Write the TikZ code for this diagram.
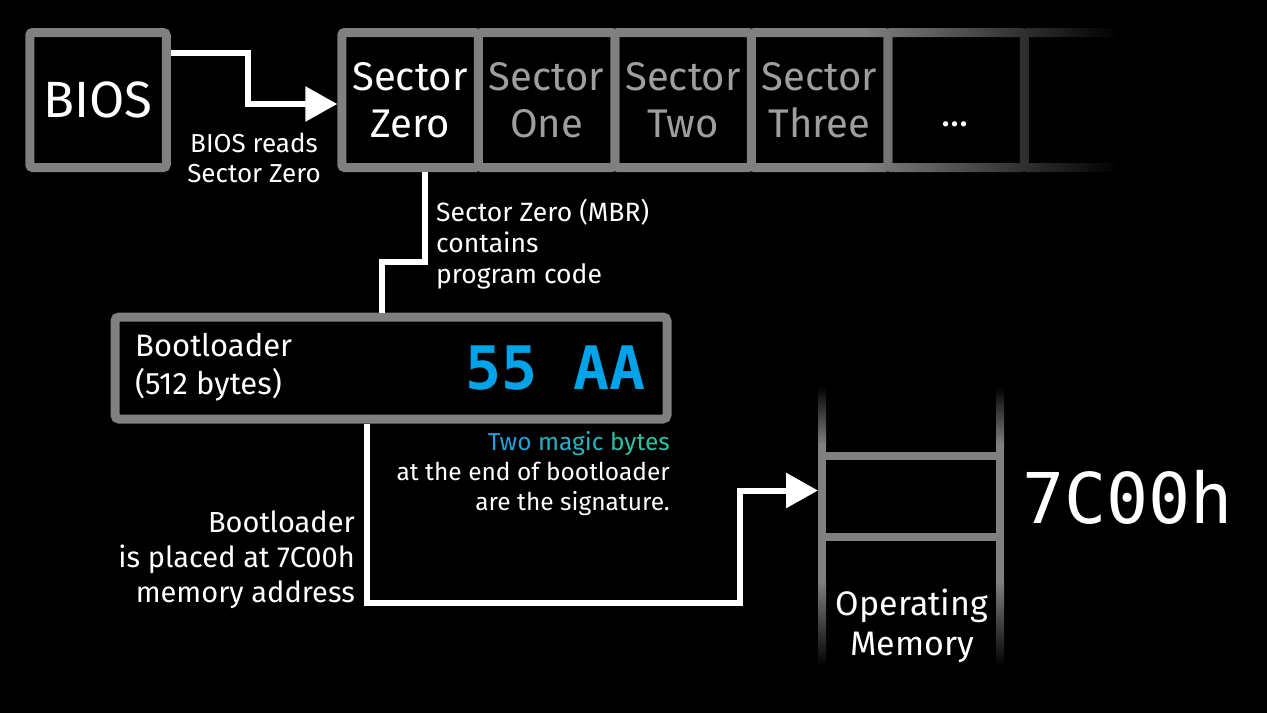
\documentclass[tikz,border=0pt]{standalone}
\usepackage{fontspec}
\setmainfont{Fira Sans}
\newfontfamily\codefont{DejaVu Sans Mono}
\usetikzlibrary{arrows.meta,fadings,calc}
\definecolor{boxgray}{RGB}{128,128,128}
\definecolor{dimtext}{RGB}{158,158,158}
\definecolor{hexblue}{RGB}{0,162,232}
\definecolor{magicA}{RGB}{38,158,218}
\definecolor{magicB}{RGB}{40,176,195}
\definecolor{magicC}{RGB}{46,192,165}
\tikzfading[name=fadeout right, left color=transparent!100, right color=transparent!0]
\tikzset{
  sectorcell/.style={draw=boxgray, line width=9pt, fill=black, rounded corners=3pt,
    minimum width=136.5pt, minimum height=135pt, inner sep=0pt, align=center,
    font=\fontsize{40}{47}\selectfont, text=dimtext},
  conn/.style={draw=white, line width=6pt},
  arrowtip/.style={-{Triangle[length=32pt,width=34pt]}},
  note/.style={text=white, font=\fontsize{24.5}{30}\selectfont, inner sep=0pt},
  memline/.style={draw=boxgray, line width=8pt},
}
\begin{document}
\begin{tikzpicture}[x=1pt,y=-1pt]
\fill[black] (0,0) rectangle (1267,713);
\useasboundingbox (0,0) rectangle (1267,713);

% BIOS
\node[sectorcell, text=white, font=\fontsize{51}{60}\selectfont] (BIOS) at (98,100) {BIOS};

% sectors
\node[sectorcell] (More) at (1092.5,100) {};
\node[sectorcell] (Dots) at (956,100) {};
\node[sectorcell] (Three) at (819.5,100) {Sector\\Three};
\node[sectorcell] (Two) at (683,100) {Sector\\Two};
\node[sectorcell] (One) at (546.5,100) {Sector\\One};
\node[sectorcell, text=white] (Zero) at (410,100) {Sector\\Zero};
\fill[black, path fading=fadeout right] (866,20) rectangle (1118,182);
\fill[black] (1117,20) rectangle (1200,182);
\node[text=white, font=\fontsize{38}{47}\selectfont, inner sep=0pt] (dotstext) at (955,124) {...};

% BIOS -> Sector Zero
\draw[conn, arrowtip] ([yshift=47pt]BIOS.east) -- ++(77,0) |- ([yshift=-4pt]Zero.west);
\node[note, align=center, font=\fontsize{26}{30}\selectfont] (readsnote) at (254,158) {BIOS reads\\Sector Zero};

% Bootloader box
\node[draw=boxgray, line width=9pt, fill=black, rounded corners=4pt,
  minimum width=552pt, minimum height=102pt, inner sep=0pt] (Boot) at (391,368) {};
\node[anchor=west, align=left, text=white, font=\fontsize{31}{38}\selectfont, inner sep=0pt]
  (bootname) at (135,367) {Bootloader\\(512 bytes)};
\node[anchor=east, text=hexblue, font=\codefont\bfseries\fontsize{60}{60}\selectfont, inner sep=0pt]
  (magic) at (646,368) {55 AA};

% Sector Zero -> Bootloader
\draw[conn] ([xshift=15pt]Zero.south) -- ++(0,90) -| ([xshift=-9pt]Boot.north);
\node[note, anchor=north west, align=left, font=\fontsize{26.5}{31}\selectfont] (mbrnote) at (436,199)
  {Sector Zero (MBR)\\contains\\program code};

\node[note, anchor=north east, align=right] (signote) at (670,431)
  {\textcolor{magicA}{Two} \textcolor{magicB}{magic} \textcolor{magicC}{bytes}\\at the end of bootloader\\are the signature.};

% memory
\node[minimum width=186pt, minimum height=81pt, inner sep=0pt, outer sep=0pt] (mem) at (911,496.5) {};
\foreach \x in {818,996}{
  \shade[top color=black, bottom color=boxgray] (\x,386) rectangle (\x+8,445);
  \fill[boxgray] (\x,444) rectangle (\x+8,582);
  \shade[top color=boxgray, bottom color=black] (\x,581) rectangle (\x+8,666);
}
\draw[memline] ($(mem.north west)+(4,0)$) -- ($(mem.north east)+(-4,0)$);
\draw[memline] ($(mem.south west)+(4,0)$) -- ($(mem.south east)+(-4,0)$);
\node[text=white, font=\codefont\fontsize{70}{70}\selectfont, anchor=west, inner sep=0pt] (addr) at (1022,497) {7C00h};
\node[text=white, align=center, font=\fontsize{34}{40}\selectfont, inner sep=0pt] (opmem) at (912,626) {Operating\\Memory};

% Bootloader -> memory
\draw[conn, arrowtip] ([xshift=-24pt]Boot.south) -- ++(0,179) -- ++(373,0) |- ([yshift=6pt]mem.west);
\node[note, anchor=north east, align=right, font=\fontsize{29}{35}\selectfont] (placenote) at (355,511)
  {Bootloader\\is placed at 7C00h\\memory address};
\end{tikzpicture}
\end{document}
